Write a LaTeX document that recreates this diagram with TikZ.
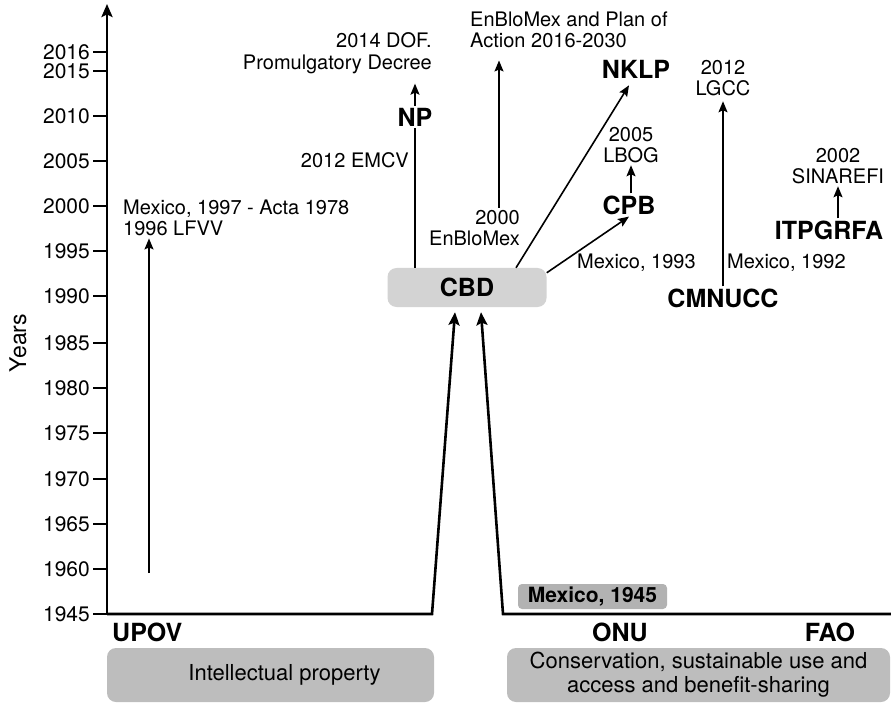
\documentclass[tikz,border=0pt]{standalone}
\usepackage{fontspec}
\setmainfont{TeX Gyre Heros}
\usetikzlibrary{arrows.meta}
\definecolor{cbdgrey}{HTML}{D3D3D3}
\definecolor{basegrey}{HTML}{BDBDBD}
\definecolor{mexgrey}{HTML}{B2B2B2}
\newcommand{\fsz}[1]{\fontsize{#1}{1.08\dimexpr #1pt\relax}\selectfont}

\begin{document}
\begin{tikzpicture}[x=1pt,y=-1pt,line join=miter]
                        \tikzstyle{txt}=[font=\fsz{20}, inner sep=2pt]
                        \tikzstyle{org}=[font=\fsz{25}\bfseries, inner sep=2pt]
                        \tikzstyle{yr}=[font=\fsz{21}, anchor=east, inner sep=0pt]
                        \tikzstyle{arr}=[line width=1.6pt, -{Stealth[length=11pt,width=9pt,inset=2pt]}]
                        \tikzstyle{fat}=[line width=2.6pt, -{Stealth[length=13pt,width=11pt,inset=2.5pt]}]
                        \tikzstyle{greybox}=[rounded corners=9pt, fill=basegrey, font=\fsz{22}, align=center, inner sep=0pt]
                        \useasboundingbox (0,0) rectangle (891,703);
                        \coordinate (origin) at (107,614);
                        \coordinate (top) at (107,4);
                        \coordinate (x149) at (149,0);
                        \coordinate (x499) at (499,0);
                        \draw[fat] (origin) -- (top);
                        \foreach \y/\p in {1945/614,1960/569,1965/524,1970/479,1975/433,1980/388,1985/343,
                                           1990/296,1995/251,2000/206,2005/161,2010/116,2015/71,2016/52}
                        {
                            \draw[line width=1.5pt] (93,\p) -- (107,\p);
                            \node[yr] (y\y) at (90,\p) {\y};
                        }
                        \node[font=\fsz{23}, rotate=90] (years) at (18,343) {Years};
                        \node[rounded corners=9pt, fill=cbdgrey, minimum width=159pt, minimum height=39pt,
                              font=\fsz{25}\bfseries, inner sep=0pt] (CBD) at (467,287.5) {CBD};
                        \node[txt, anchor=west, align=left] (upovtxt) at (121,218) {Mexico, 1997 - Acta 1978\\1996 LFVV};
                        \node[org] (NP) at (415,117) {NP};
                        \node[txt, anchor=east, align=right] (dof) at (434,53) {2014 DOF.\\Promulgatory Decree};
                        \node[txt, anchor=east] (emcv) at (411,160) {2012 EMCV};
                        \node[txt, anchor=east, align=right] (enblo) at (522,228) {2000\\EnBloMex};
                        \node[txt, anchor=west, align=left] (plan) at (468,30) {EnBloMex and Plan of\\Action 2016-2030};
                        \node[org] (NKLP) at (636,69) {NKLP};
                        \node[org] (CPB) at (629,205) {CPB};
                        \node[txt, align=center] (lbog) at (631,145) {2005\\LBOG};
                        \node[txt, anchor=west] (mex93) at (575,263) {Mexico, 1993};
                        \node[org] (CMNUCC) at (723,298) {CMNUCC};
                        \node[txt, align=center] (lgcc) at (723,78) {2012\\LGCC};
                        \node[txt, anchor=west] (mex92) at (725,263) {Mexico, 1992};
                        \node[org] (ITPGRFA) at (829,230) {ITPGRFA};
                        \node[txt, align=center] (sinarefi) at (838,166) {2002\\SINAREFI};
                        \node[rounded corners=4pt, fill=mexgrey, minimum width=149pt, minimum height=25pt,
                              font=\fsz{21}\bfseries, inner sep=0pt] (mex45) at (592.5,596.5) {Mexico, 1945};
                        \node[org, anchor=west] (UPOV) at (110,632) {UPOV};
                        \node[org] (ONU) at (620,632) {ONU};
                        \node[org] (FAO) at (830,632) {FAO};
                        \node[greybox, minimum width=327pt, minimum height=54pt] (ip) at (270.5,675)
                            {\hspace*{28pt}Intellectual property};
                        \node[greybox, minimum width=383pt, minimum height=54pt] (cons) at (698.5,675)
                            {Conservation, sustainable use and\\access and benefit-sharing};
                        \draw[fat] (origin) -- (432,614) -- ([xshift=-12pt, yshift=-5pt]CBD.south);
                        \draw[fat] (891,614) -- (503,614) -- ([xshift=14pt, yshift=-5pt]CBD.south);
                        \draw[arr] (x149 |- 0,573) -- (x149 |- upovtxt.south);
                        \draw[line width=1.6pt] (CBD.north -| NP) -- (NP.south);
                        \draw[arr] (NP.north) -- ([yshift=-8pt]dof.south -| NP);
                        \draw[arr] (x499 |- enblo.north) -- ([yshift=-10pt]x499 |- plan.south);
                        \draw[arr] ([xshift=49pt]CBD.north) -- ([xshift=-7pt, yshift=-5pt]NKLP.south);
                        \draw[arr] ([yshift=-5pt]CBD.north east) -- (CPB.south);
                        \draw[arr] (CPB.north -| lbog) -- (lbog.south);
                        \draw[arr] (CMNUCC.north) -- ([yshift=-3pt]lgcc.south);
                        \draw[arr] (ITPGRFA.north -| sinarefi) -- (sinarefi.south);
\end{tikzpicture}
\end{document}
